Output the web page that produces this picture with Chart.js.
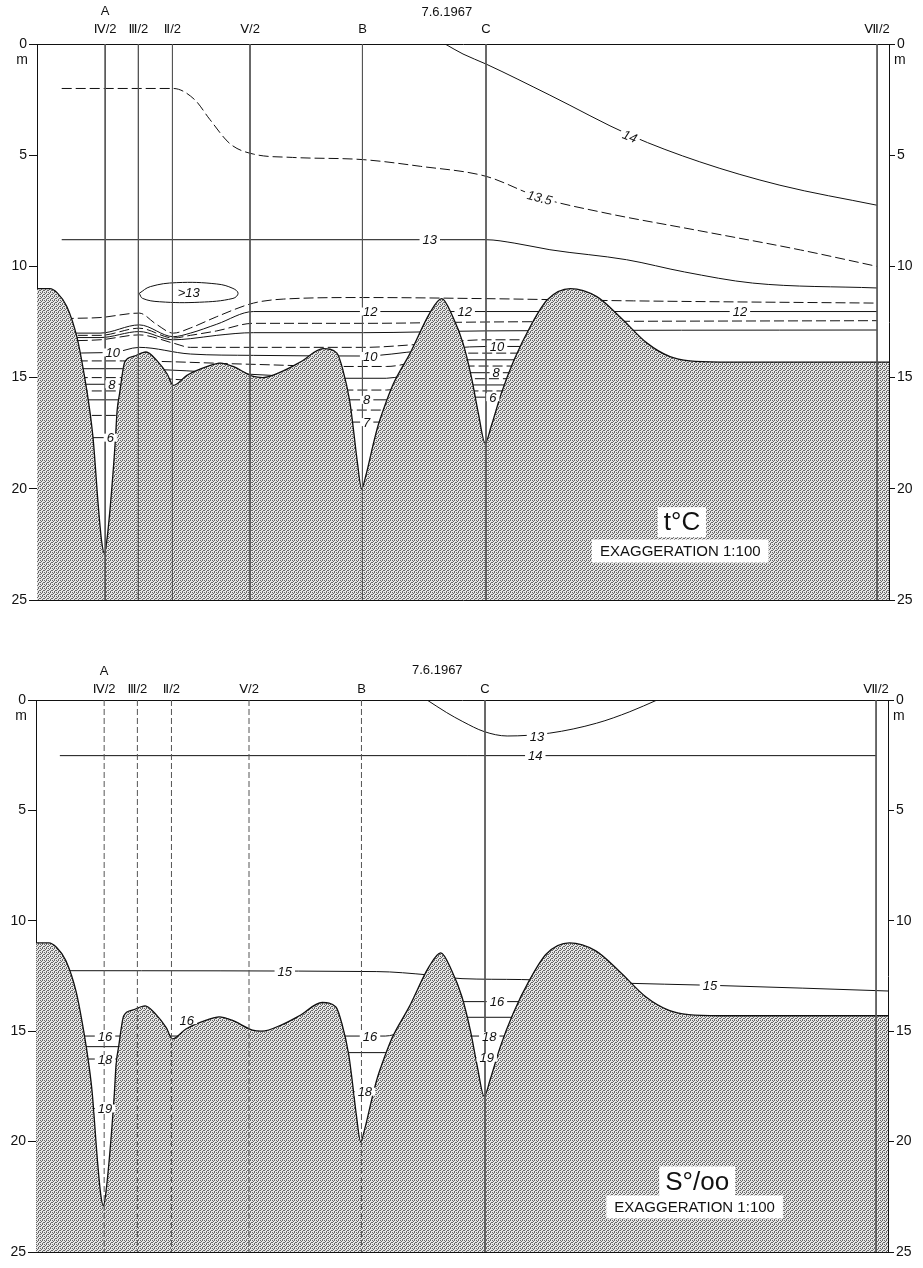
<!DOCTYPE html>
<html>
<head>
<meta charset="utf-8">
<title>Section 7.6.1967</title>
<script src="https://cdn.jsdelivr.net/npm/chart.js@4.4.1/dist/chart.umd.min.js"></script>
<style>
  body { margin: 0; background: #fff; }
  #wrap { position: relative; width: 923px; height: 1268px; }
  canvas { position: absolute; left: 0; }
  #tempChart { top: 0; }
  #salChart { top: 640px; }
</style>
</head>
<body>
<div id="wrap">
  <canvas id="tempChart" width="923" height="625"></canvas>
  <canvas id="salChart" width="923" height="628"></canvas>
</div>
<script>
const FONT = '"Liberation Sans", "DejaVu Sans", Arial, sans-serif';

// stations along the section (x in section units 0..100)
const surveyDate = '7.6.1967';
const stationPos = [8.0, 11.9, 15.9, 25.0, 38.2, 52.7, 98.6];
const stationLabels = [['A', 'Ⅳ/2'], 'Ⅲ/2', 'Ⅱ/2', 'Ⅴ/2', 'B', 'C', 'Ⅶ/2'];
const depthTicks = [0, 5, 10, 15, 20, 25];

// sea bed, [x, depth m]
const bedDepth = [
  [0, 11.0], [1.5, 11.0], [2.4, 11.2], [3.5, 11.8], [4.7, 13.2], [5.6, 15.0], [6.2, 16.5],
  [6.6, 17.8], [7.2, 20.8], [7.6, 22.4], [7.9, 22.9], [8.1, 22.6], [8.6, 20.8], [9.2, 17.8],
  [9.4, 16.5], [9.7, 15.7], [10.3, 14.3], [11.3, 14.05], [12.8, 13.85], [14.1, 14.25],
  [15.3, 14.85], [16.0, 15.35], [17.6, 14.9], [20.0, 14.5], [21.5, 14.35], [23.0, 14.5],
  [25.4, 14.95], [26.5, 15.0], [28.9, 14.7], [30.9, 14.3], [33.6, 13.7], [35.2, 13.9],
  [35.9, 14.65], [36.7, 16.05], [37.1, 17.2], [37.6, 18.8], [38.1, 20.0], [38.6, 19.4],
  [39.4, 18.1], [40.0, 17.2], [40.6, 16.5], [41.8, 15.3], [43.8, 13.9], [46.1, 12.1],
  [47.5, 11.45], [48.8, 12.26], [50.0, 13.45], [51.0, 15.0], [51.8, 16.6], [52.6, 17.95],
  [53.3, 17.2], [54.5, 15.7], [56.0, 14.2], [57.9, 12.7], [59.9, 11.5], [62.6, 11.0],
  [65.7, 11.36], [68.4, 12.26], [71.6, 13.45], [74.3, 14.06], [76.6, 14.25], [80.2, 14.3],
  [100, 14.3]
];

// temperature isolines, deg C
const t14 = [[47.9, 0], [50.0, 0.45], [52.7, 0.9], [60.2, 2.3], [69.6, 4.1], [77.8, 5.3], [87.2, 6.35], [98.6, 7.25]];
const t135 = [[2.9, 2.0], [16.0, 2.0], [18.5, 2.5], [20.3, 3.4], [22.7, 4.5], [25.4, 4.95], [30, 5.1], [38.3, 5.2], [45, 5.5], [52.7, 5.95], [59.0, 6.9], [66.1, 7.55], [77.8, 8.4], [89.6, 9.26], [98.6, 10.0]];
const t13 = [[2.9, 8.8], [52.7, 8.8], [56, 8.95], [60.2, 9.25], [69.2, 9.7], [76, 10.25], [84, 10.75], [98.6, 10.97]];
const t125 = [[1.5, 12.4], [4.1, 12.34], [7.4, 12.3], [12.0, 12.1], [14.0, 12.6], [16.0, 13.0], [18.0, 12.77], [21.1, 12.26], [25.4, 11.65], [28.9, 11.47], [38.3, 11.4], [52.7, 11.45], [70, 11.55], [98.6, 11.65]];
const t12 = [[1.5, 13.0], [7.4, 13.0], [12.0, 12.63], [16.0, 13.16], [18.0, 13.0], [21.1, 12.6], [25.4, 12.03], [98.6, 12.03]];
const t115 = [[1.5, 13.1], [7.4, 13.1], [12.0, 12.78], [16.0, 13.22], [18.0, 13.1], [21.1, 12.9], [25.4, 12.56], [38.3, 12.56], [52.7, 12.5], [98.6, 12.44]];
const t11 = [[1.5, 13.2], [7.4, 13.2], [12.0, 12.93], [16.0, 13.3], [18.0, 13.25], [21.1, 13.1], [25.4, 12.98], [38.3, 12.98], [52.7, 12.9], [98.6, 12.86]];
const t105 = [[1.5, 13.35], [7.4, 13.3], [12.0, 13.08], [16.0, 13.45], [18.0, 13.64], [38.3, 13.64], [45, 13.5], [52.7, 13.3], [58, 13.3]];
const t10 = [[1.5, 13.9], [8.9, 13.87], [12.0, 13.64], [18.0, 13.94], [25.4, 14.0], [38.3, 14.03], [45, 13.8], [52.7, 13.6], [58, 13.6]];
const t95 = [[1.5, 14.25], [10, 14.25], [25, 14.4], [36, 14.5], [41, 14.5], [49, 13.9], [58, 13.9]];
const t9 = [[1.5, 14.6], [10, 14.6], [25, 14.85], [36, 15.03], [41, 15.03], [49, 14.2], [58, 14.2]];
const t85 = [[1.5, 15.0], [10, 15.0], [36, 15.56], [41, 15.56], [49, 14.48], [58, 14.48]];
const t8 = [[1.5, 15.3], [10, 15.3], [36, 16.0], [41, 16.0], [49, 14.78], [58, 14.78]];
const t75 = [[1.5, 15.6], [10, 15.6], [36, 16.46], [41, 16.46], [49, 15.05], [58, 15.05]];
const t7 = [[1.5, 16.0], [10, 16.0], [36, 17.0], [41, 17.0], [49, 15.33], [58, 15.33]];
const t65 = [[1.5, 16.7], [12, 16.7], [30, null], [49, 15.6], [58, 15.6]];
const t6 = [[1.5, 17.7], [12, 17.7], [30, null], [49, 15.88], [58, 15.88]];
const warmPocket = [[12.0, 11.21], [13.3, 10.91], [16.4, 10.73], [21.1, 10.79], [23.0, 10.99], [23.6, 11.21], [23.0, 11.44], [19.1, 11.61], [14.4, 11.59], [12.4, 11.44], [12.0, 11.21]];

// salinity isolines, per mille
const s13 = [[45.9, 0], [48.2, 0.57], [50.1, 0.98], [52.6, 1.43], [55.3, 1.63], [60.3, 1.5], [65.8, 1.05], [69.7, 0.53], [72.9, 0]];
const s14 = [[2.8, 2.52], [98.6, 2.52]];
const s15 = [[3.2, 12.26], [40, 12.3], [46, 12.45], [50, 12.62], [57, 12.66], [68.5, 12.82], [79.1, 12.92], [90, 13.05], [100, 13.18]];
const s16 = [[1.5, 15.22], [41, 15.22], [49, 13.66], [58, 13.66]];
const s17 = [[1.5, 15.7], [10, 15.7], [36, 15.97], [41, 15.97], [49, 14.37], [58, 14.37]];
const s18 = [[1.5, 16.26], [10, 16.26], [36, 17.74], [41, 17.74], [49, 15.22], [58, 15.22]];
const s19 = [[1.5, 18.5], [12, 18.5], [30, null], [49, 16.2], [58, 16.2]];

// isoline labels: [x, depth, text, angle]
const tempLabels = [
  [69.6, 4.15, '14', 22], [59.0, 6.9, '13.5', 15], [46.1, 8.8, '13', 0],
  [39.1, 12.03, '12', 0], [50.2, 12.03, '12', 0], [82.5, 12.03, '12', 0],
  [8.9, 13.87, '10', 0], [8.8, 15.3, '8', 0], [8.6, 17.7, '6', 0],
  [39.1, 14.03, '10', 0], [38.7, 16.0, '8', 0], [38.7, 17.0, '7', 0],
  [54.0, 13.6, '10', 0], [53.9, 14.78, '8', 0], [53.5, 15.88, '6', 0]
];
const salLabels = [
  [58.8, 1.63, '13', 0], [58.6, 2.52, '14', 0], [29.2, 12.28, '15', 0], [79.1, 12.92, '15', 0],
  [8.1, 15.22, '16', 0], [8.1, 16.26, '18', 0], [8.1, 18.5, '19', 0], [17.7, 14.5, '16', 0],
  [39.2, 15.22, '16', 0], [38.6, 17.74, '18', 0],
  [54.1, 13.66, '16', 0], [53.2, 15.22, '18', 0], [52.9, 16.2, '19', 0]
];

const toXY = pts => pts.map(([x, y]) => ({ x, y }));

// Function to make the stippled sea bed fill
function makeStipple(ctx) {
  const tile = document.createElement('canvas');
  tile.width = 4; tile.height = 4;
  const c = tile.getContext('2d');
  c.fillStyle = '#e6e6e6';
  c.fillRect(0, 0, 4, 4);
  c.fillStyle = '#686868';
  [[0, 0], [2, 0], [1, 1], [3, 2], [0, 2], [2, 3]].forEach(([x, y]) => c.fillRect(x, y, 1, 1));
  return ctx.createPattern(tile, 'repeat');
}

// Function to draw dates, units, isoline labels and the boxed captions
function makeTextPlugin(t) {
  return {
    id: 'sectionText',
    afterDraw(chart) {
      const { ctx, chartArea, scales } = chart;
      const px = v => scales.x.getPixelForValue(v);
      const py = v => scales.y.getPixelForValue(v);
      ctx.save();
      ctx.fillStyle = '#111';
      ctx.textBaseline = 'middle';
      ctx.textAlign = 'center';
      ctx.font = '13px ' + FONT;
      ctx.fillText(surveyDate, px(t.dateX), chartArea.top - t.dateRise);
      ctx.font = '14px ' + FONT;
      ctx.fillText('m', chartArea.left - 15, chartArea.top + 16);
      ctx.textAlign = 'left';
      ctx.fillText('m', chartArea.right + 5, chartArea.top + 16);

      ctx.font = 'italic 13px ' + FONT;
      ctx.textAlign = 'center';
      t.labels.forEach(([x, d, text, angle]) => {
        const w = ctx.measureText(text).width;
        ctx.save();
        ctx.translate(px(x), py(d));
        ctx.rotate(angle * Math.PI / 180);
        ctx.fillStyle = '#fff';
        ctx.fillRect(-w / 2 - 3, -4, w + 6, 8);
        ctx.fillStyle = '#111';
        ctx.fillText(text, 0, 1);
        ctx.restore();
      });
      if (t.pocket) {
        ctx.fillText(t.pocket[2], px(t.pocket[0]), py(t.pocket[1]) + 1);
      }

      [[t.title, 26, 6, 30], [t.note, 15, 8, 23]].forEach(([item, size, padX, h]) => {
        ctx.font = size + 'px ' + FONT;
        const w = ctx.measureText(item[0]).width;
        const cx = px(item[1]), cy = py(item[2]);
        ctx.fillStyle = '#fff';
        ctx.fillRect(cx - w / 2 - padX, cy - h / 2, w + padX * 2, h);
        ctx.fillStyle = '#111';
        ctx.fillText(item[0], cx, cy + 1);
      });
      ctx.restore();
    }
  };
}

// Function to build one section chart
function buildSection(canvasId, cfg) {
  const ctx = document.getElementById(canvasId).getContext('2d');
  const datasets = [];
  stationPos.forEach((s, i) => datasets.push({
    data: [{ x: s, y: 0 }, { x: s, y: 25 }],
    borderColor: '#555', borderWidth: 1,
    borderDash: cfg.stationDash[i] ? [6, 3] : [],
    order: 0
  }));
  datasets.push({
    data: toXY(bedDepth), borderColor: '#111', borderWidth: 1.3,
    backgroundColor: makeStipple(ctx), fill: { value: 25 },
    cubicInterpolationMode: 'monotone', order: 1
  });
  cfg.solid.forEach(p => datasets.push({
    data: toXY(p), borderColor: '#111', borderWidth: 1,
    cubicInterpolationMode: 'monotone', order: 2
  }));
  cfg.dashed.forEach(p => datasets.push({
    data: toXY(p), borderColor: '#111', borderWidth: 1, borderDash: [10, 4],
    cubicInterpolationMode: 'monotone', order: 2
  }));
  if (cfg.pocket) {
    datasets.push({ data: toXY(cfg.pocket), borderColor: '#111', borderWidth: 1, tension: 0.4, order: 2 });
  }

  const border = { display: true, color: '#111', width: 1 };
  const yTicks = s => { s.ticks = depthTicks.map(v => ({ value: v })); };
  return new Chart(ctx, {
    type: 'line',
    data: { datasets },
    options: {
      responsive: false,
      animation: false,
      layout: { padding: 0 },
      elements: { point: { radius: 0 } },
      plugins: { legend: { display: false }, tooltip: { enabled: false } },
      scales: {
        x: {
          type: 'linear', position: 'top', min: 0, max: 100,
          afterBuildTicks: s => { s.ticks = stationPos.map(v => ({ value: v })); },
          afterFit: s => { s.height = cfg.topH; },
          ticks: {
            autoSkip: false, maxRotation: 0, minRotation: 0, padding: cfg.tickPad, color: '#111',
            font: { family: FONT, size: 13, lineHeight: 1.4 },
            callback: (v, i) => stationLabels[i]
          },
          grid: { drawOnChartArea: false, drawTicks: false },
          border
        },
        xb: {
          type: 'linear', position: 'bottom', min: 0, max: 100,
          afterFit: s => { s.height = cfg.bottomH; },
          ticks: { display: false },
          grid: { drawOnChartArea: false, drawTicks: false },
          border
        },
        y: {
          type: 'linear', position: 'left', reverse: true, min: 0, max: 25,
          afterBuildTicks: yTicks,
          afterFit: s => { s.width = cfg.leftW; },
          ticks: { padding: 2, color: '#111', font: { family: FONT, size: 14 } },
          grid: { drawOnChartArea: false, drawTicks: true, tickLength: 8, color: '#111' },
          border
        },
        y2: {
          type: 'linear', position: 'right', reverse: true, min: 0, max: 25, display: true,
          afterBuildTicks: yTicks,
          afterFit: s => { s.width = cfg.rightW; },
          ticks: { padding: 2, color: '#111', font: { family: FONT, size: 14 } },
          grid: { drawOnChartArea: false, drawTicks: true, tickLength: 6, color: '#111' },
          border
        }
      }
    },
    plugins: [makeTextPlugin(cfg.text)]
  });
}

document.addEventListener('DOMContentLoaded', () => {
  buildSection('tempChart', {
    topH: 44, bottomH: 25, leftW: 37, rightW: 34, tickPad: 5,
    stationDash: [false, false, false, false, false, false, false],
    solid: [t14, t13, t12, t11, t10, t9, t8, t7, t6],
    dashed: [t135, t125, t115, t105, t95, t85, t75, t65],
    pocket: warmPocket,
    text: {
      dateX: 48.1, dateRise: 32, labels: tempLabels, pocket: [17.8, 11.15, '>13'],
      title: ['t°C', 75.7, 21.5], note: ['EXAGGERATION 1:100', 75.5, 22.8]
    }
  });
  buildSection('salChart', {
    topH: 60, bottomH: 16, leftW: 36, rightW: 35, tickPad: 1,
    stationDash: [true, true, true, true, true, false, false],
    solid: [s13, s14, s15, s16, s17, s18, s19],
    dashed: [],
    text: {
      dateX: 47.1, dateRise: 30, labels: salLabels,
      title: ['S°/oo', 77.6, 21.8], note: ['EXAGGERATION 1:100', 77.3, 22.96]
    }
  });
});
</script>
</body>
</html>
